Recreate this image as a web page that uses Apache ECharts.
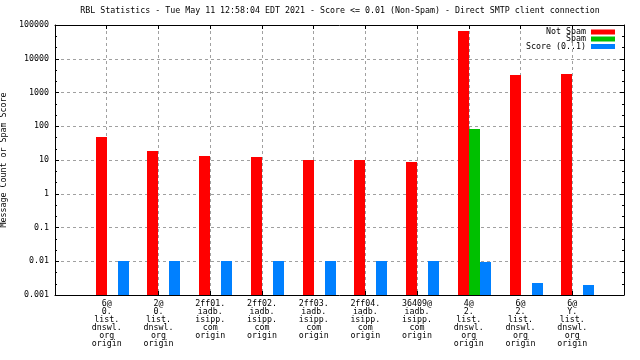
<!DOCTYPE html>
<html><head><meta charset="utf-8">
<script src="https://cdn.jsdelivr.net/npm/echarts@6/dist/echarts.min.js"></script>
<style>html,body{margin:0;padding:0;background:#fff}#c{width:640px;height:360px}</style>
</head><body><div id="c"></div>
<script>
const titleText = 'RBL Statistics - Tue May 11 12:58:04 EDT 2021 - Score <= 0.01 (Non-Spam) - Direct SMTP client connection';
const yAxisName = 'Message Count or Spam Score';
const categories = [
  '6@\n0.\nlist.\ndnswl.\norg\norigin',
  '2@\n0.\nlist.\ndnswl.\norg\norigin',
  '2ff01.\niadb.\nisipp.\ncom\norigin',
  '2ff02.\niadb.\nisipp.\ncom\norigin',
  '2ff03.\niadb.\nisipp.\ncom\norigin',
  '2ff04.\niadb.\nisipp.\ncom\norigin',
  '36409@\niadb.\nisipp.\ncom\norigin',
  '4@\n2.\nlist.\ndnswl.\norg\norigin',
  '6@\n2.\nlist.\ndnswl.\norg\norigin',
  '6@\nY.\nlist.\ndnswl.\norg\norigin'
];
const seriesNames = ['Not Spam', 'Spam', 'Score (0..1)'];
const notSpam = [47, 18, 13, 12, 10, 10, 9, 64300, 3200, 3650];
const spam = [null, null, null, null, null, null, null, 81, null, null];
const score = [0.01, 0.01, 0.01, 0.01, 0.01, 0.01, 0.01, 0.0094, 0.0022, 0.00195];
const yTickLabels = ['0.001', '0.01', '0.1', '1', '10', '100', '1000', '10000', '100000'];

const Y_MIN = 0.001, Y_MAX = 100000;
const COLORS = ['#ff0000', '#00c000', '#0080ff'];
const BAR_W = 11;
const OFFSETS = [-11, 0, 11];
const FONT = 'DejaVu Sans Mono';
const FS = 8.3;
const xCats = [''].concat(categories, ['']);
const dash = { color: '#a0a0a0', type: [3, 3], width: 1 };
const txt = { fontFamily: FONT, fontSize: FS, color: '#000' };

const toItems = arr => arr.map((v, i) => [i + 1, v]).filter(d => d[1] != null);

const chart = echarts.init(document.getElementById('c'), null, { renderer: 'canvas' });
const tickAxis = (pos) => ({
  type: 'value', position: pos, min: -3, max: 5, interval: 1, gridIndex: 0,
  axisLine: { show: true, onZero: false, lineStyle: { color: '#000', width: 1 } },
  axisTick: { show: true, inside: true, length: 4, lineStyle: { color: '#000' } },
  minorTick: { show: true, splitNumber: 3, length: 2, lineStyle: { color: '#000' } },
  axisLabel: { show: false }, splitLine: { show: false }
});
const legendFor = (name, top) => ({
  data: [name], right: 25, top: top, orient: 'vertical', align: 'right',
  icon: 'rect', itemWidth: 24, itemHeight: 5, padding: 0, itemGap: 0,
  selectedMode: false, textStyle: Object.assign({ lineHeight: 8 }, txt)
});
const makeRender = k => (params, api) => {
  const v = api.value(1);
  if (v == null || isNaN(v)) return null;
  const x = api.value(0);
  const top = api.coord([x, v]);
  const base = api.coord([x, Y_MIN]);
  const x0 = Math.round(top[0]) + OFFSETS[k];
  const y0 = Math.round(top[1]);
  return {
    type: 'rect',
    shape: { x: x0, y: y0, width: BAR_W, height: Math.round(base[1]) - y0 },
    style: { fill: COLORS[k] }
  };
};
const barSeries = (k, arr) => ({
  type: 'custom', name: seriesNames[k], data: toItems(arr),
  encode: { x: 0, y: 1 }, renderItem: makeRender(k),
  itemStyle: { color: COLORS[k] }, z: 3
});

chart.setOption({
  animation: false,
  backgroundColor: '#fff',
  title: {
    text: titleText, left: 340, top: 7, textAlign: 'center', padding: 0,
    textStyle: Object.assign({ fontWeight: 'normal' }, txt)
  },
  legend: [legendFor(seriesNames[0], 28), legendFor(seriesNames[1], 35), legendFor(seriesNames[2], 42.5)],
  grid: { left: 55, right: 16, top: 25, bottom: 65, containLabel: false, outerBoundsMode: 'none' },
  xAxis: [{
    type: 'category', data: xCats, boundaryGap: false, position: 'bottom',
    axisLine: { onZero: false, lineStyle: { color: '#000', width: 1 } },
    axisTick: { show: true, inside: true, length: 4, interval: (i, v) => v !== '', lineStyle: { color: '#000' } },
    axisLabel: Object.assign({ interval: 0, margin: 5, lineHeight: 8, align: 'center' }, txt),
    splitLine: { show: true, interval: (i, v) => v !== '', lineStyle: dash }
  }, {
    type: 'category', data: xCats, boundaryGap: false, position: 'top',
    axisLine: { onZero: false, lineStyle: { color: '#000', width: 1 } },
    axisTick: { show: true, inside: true, length: 4, interval: (i, v) => v !== '', lineStyle: { color: '#000' } },
    axisLabel: { show: false }, splitLine: { show: false }
  }],
  yAxis: [{
    type: 'log', logBase: 10, min: Y_MIN, max: Y_MAX, interval: 1, splitNumber: 8,
    name: yAxisName, nameLocation: 'middle', nameGap: 40,
    nameTextStyle: txt,
    axisLine: { show: false, onZero: false }, axisTick: { show: false },
    axisLabel: Object.assign({ margin: 6, formatter: v => yTickLabels[Math.round(Math.log10(v)) + 3] }, txt),
    splitLine: { show: true, showMinLine: false, showMaxLine: false, lineStyle: dash }
  }, tickAxis('left'), tickAxis('right')],
  series: [barSeries(0, notSpam), barSeries(1, spam), barSeries(2, score)]
});
</script></body></html>
